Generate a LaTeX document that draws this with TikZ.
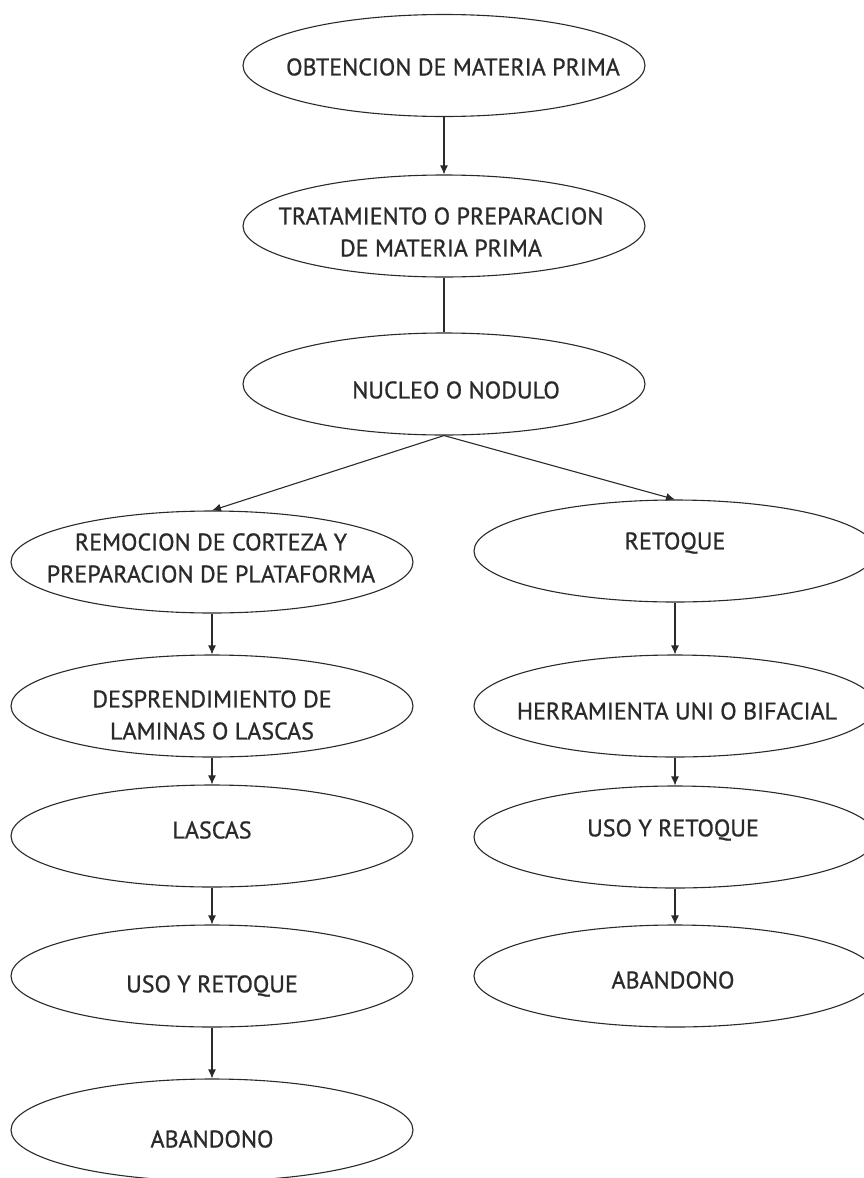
\documentclass[tikz,border=0pt]{standalone}
\usepackage{fontspec}
\setmainfont{PT Sans}[FakeBold=0.9]
\usetikzlibrary{arrows.meta,shapes.geometric}
\definecolor{ink}{HTML}{2A2A2A}
\tikzset{
  oval/.style={draw=ink, line width=1.1pt, ellipse, minimum width=402pt, minimum height=102pt, inner sep=0pt},
  lbl/.style={text=ink, font=\fontsize{24}{32}\selectfont, align=center, inner sep=0pt},
  flow/.style={draw=ink, line width=1.1pt, -{Latex[length=9pt,width=8pt]}},
  plain/.style={draw=ink, line width=1.1pt}
}
\begin{document}
\begin{tikzpicture}[x=1pt,y=-1pt]
\useasboundingbox (0,0) rectangle (864,1178);
\clip (0,0) rectangle (864,1178);
% ellipses
\node[oval] (n1) at (444,65.5) {};
\node[oval] (n2) at (444,226) {};
\node[oval] (n3) at (444,384) {};
\node[oval] (n4) at (212,562) {};
\node[oval] (n5) at (675,551) {};
\node[oval] (n6) at (212,706) {};
\node[oval] (n7) at (675,706) {};
\node[oval] (n8) at (212,836) {};
\node[oval] (n9) at (675,837) {};
\node[oval] (n10) at (212,976) {};
\node[oval] (n11) at (675,976) {};
\node[oval] (n12) at (212,1130) {};
% texts
\node[lbl] (t1) at (453,67) {OBTENCION DE MATERIA PRIMA};
\node[lbl] (t2) at (441,232) {TRATAMIENTO O PREPARACION\\DE MATERIA PRIMA};
\node[lbl] (t3) at (456,390) {NUCLEO O NODULO};
\node[lbl] (t4) at (211,558) {REMOCION DE CORTEZA Y\\PREPARACION DE PLATAFORMA};
\node[lbl] (t5) at (675,543) {RETOQUE};
\node[lbl] (t6) at (212,715) {DESPRENDIMIENTO DE\\LAMINAS O LASCAS};
\node[lbl] (t7) at (677,711) {HERRAMIENTA UNI O BIFACIAL};
\node[lbl] (t8) at (212,830) {LASCAS};
\node[lbl] (t9) at (673,830) {USO Y RETOQUE};
\node[lbl] (t10) at (212,986) {USO Y RETOQUE};
\node[lbl] (t11) at (673,980) {ABANDONO};
\node[lbl] (t12) at (212,1139) {ABANDONO};
% connectors
\draw[flow] (n1.south) -- (n2.north);
\draw[plain] (n2.south) -- (n3.north);
\draw[flow] (n3.south) -- (n4.north);
\draw[flow] (n3.south) -- (n5.north);
\draw[flow] (n4.south) -- (n6.north);
\draw[flow] (n6.south) -- (n8.north);
\draw[flow] (n8.south) -- (n10.north);
\draw[flow] (n10.south) -- (n12.north);
\draw[flow] (n5.south) -- (n7.north);
\draw[flow] (n7.south) -- (n9.north);
\draw[flow] (n9.south) -- (n11.north);
\end{tikzpicture}
\end{document}
